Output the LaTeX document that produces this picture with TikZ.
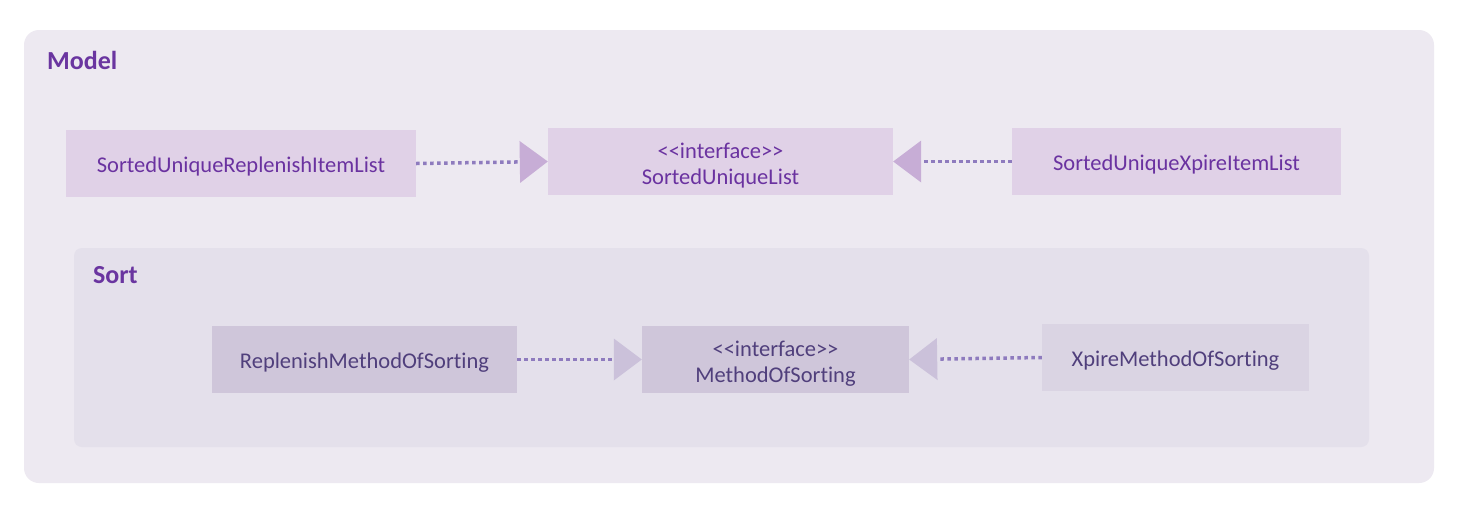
\documentclass[tikz,border=0pt]{standalone}
\usepackage{fontspec}
\setmainfont{Carlito}[Ligatures={NoCommon}]
\usetikzlibrary{arrows.meta}
\definecolor{outerbg}{HTML}{EDE9F1}
\definecolor{sortbg}{HTML}{E4E0EB}
\definecolor{topbox}{HTML}{E0D1E7}
\definecolor{botbox}{HTML}{CFC6DA}
\definecolor{xbox}{HTML}{DAD4E3}
\definecolor{toptext}{HTML}{6A32A0}
\definecolor{bottext}{HTML}{503F7C}
\definecolor{grplabel}{HTML}{6A35A0}
\definecolor{dotline}{HTML}{8E7BBE}
\definecolor{toptip}{HTML}{C7ADD6}
\definecolor{bottip}{HTML}{CBC1DA}
\begin{document}
\begin{tikzpicture}[x=1pt,y=-1pt,
  classbox/.style={inner sep=0pt, minimum height=67pt},
  topcls/.style={classbox, fill=topbox},
  botcls/.style={classbox, fill=botbox},
  clstext/.style={inner sep=0pt, align=center, font=\fontsize{22.5}{26}\selectfont},
  toptxt/.style={clstext, text=toptext},
  bottxt/.style={clstext, text=bottext},
  grp/.style={font=\bfseries\fontsize{26}{30}\selectfont, text=grplabel, anchor=west, inner sep=0pt},
  topreal/.style={line width=3.5pt, draw=dotline, dash pattern=on 3.5pt off 3.5pt,
    -{Triangle[length=28pt,width=42pt,line width=0pt,color=toptip,fill=toptip]}},
  botreal/.style={line width=3.5pt, draw=dotline, dash pattern=on 3.5pt off 3.5pt,
    -{Triangle[length=28pt,width=42pt,line width=0pt,color=bottip,fill=bottip]}}
]
\useasboundingbox[fill=white] (0,0) rectangle (1466,512);
\fill[outerbg, rounded corners=15pt] (24,30) rectangle (1434,483);
\node[grp] (model) at (47,60) {Model};
\fill[sortbg, rounded corners=8pt] (74,248) rectangle (1369,447);
\node[grp] (sort) at (93,275) {Sort};

\node[topcls, minimum width=350pt] (suril) at (241,163.5) {};
\node[topcls, minimum width=345pt] (sul) at (720.5,161.5) {};
\node[topcls, minimum width=329pt] (suxil) at (1176.5,161.5) {};
\node[botcls, minimum width=305pt] (rmos) at (364.5,359.5) {};
\node[botcls, minimum width=267pt] (mos) at (775.5,359.5) {};
\node[botcls, fill=xbox, minimum width=267pt] (xmos) at (1175.5,357.5) {};

\node[toptxt, yshift=-3pt] (surilt) at (suril) {SortedUniqueReplenishItemList};
\node[toptxt, yshift=-4pt] (sult) at (sul) {{<}{<}interface{>}{>}\\SortedUniqueList};
\node[toptxt, yshift=-3pt] (suxilt) at (suxil) {SortedUniqueXpireItemList};
\node[bottxt, yshift=-3pt] (rmost) at (rmos) {ReplenishMethodOfSorting};
\node[bottxt, yshift=-4pt] (most) at (mos) {{<}{<}interface{>}{>}\\MethodOfSorting};
\node[bottxt, yshift=-3pt] (xmost) at (xmos) {XpireMethodOfSorting};

\draw[topreal] (suril.east) -- (sul.west);
\draw[topreal] (suxil.west) -- (sul.east);
\draw[botreal] (rmos.east) -- (mos.west);
\draw[botreal] (xmos.west) -- (mos.east);
\end{tikzpicture}
\end{document}
